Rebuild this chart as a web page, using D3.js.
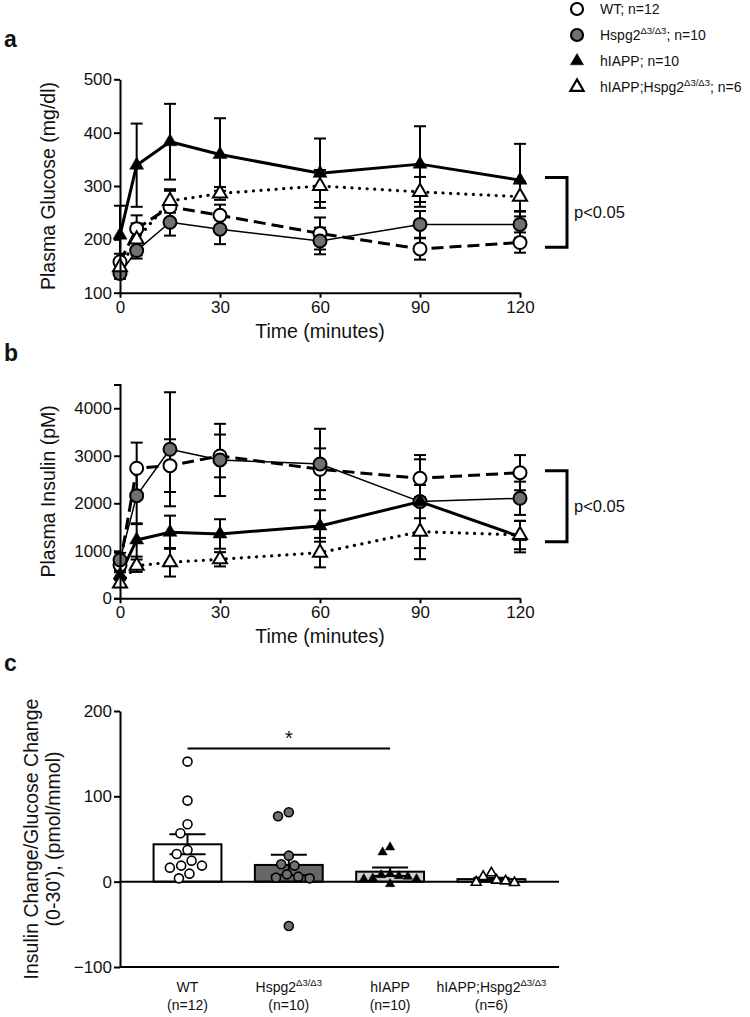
<!DOCTYPE html>
<html><head><meta charset="utf-8">
<script src="https://cdn.jsdelivr.net/npm/d3@7/dist/d3.min.js"></script>
<style>
body{margin:0;background:#fff}
svg{display:block}
text{font-family:"Liberation Sans",Arial,Helvetica,sans-serif;fill:#111}
</style>
</head><body>
<svg id="chart" width="750" height="1017"></svg>
<script>
// ---------- DATA ----------
const times = [0, 5, 15, 30, 60, 90, 120];
const timeTicks = [0, 30, 60, 90, 120];
const glucoseTicks = [100, 200, 300, 400, 500];
const insulinTicks = [0, 1000, 2000, 3000, 4000];
const ratioTicks = [-100, 0, 100, 200];

// Plasma glucose (mg/dl), mean and SEM
const glucoseWT       = [158, 220, 261, 245, 211, 182, 194];
const glucoseWTsem    = [15, 25, 30, 20, 30, 20, 19];
const glucoseHspg     = [136, 179, 232, 219, 197, 228, 228];
const glucoseHspgSem  = [10, 15, 25, 28, 25, 25, 25];
const glucoseHiapp    = [208, 339, 383, 359, 324, 341, 311];
const glucoseHiappSem = [55, 78, 71, 68, 65, 71, 68];
const glucoseDbl      = [148, 200, 272, 286, 300, 289, 280];
const glucoseDblSem   = [12, 30, 22, 12, 30, 28, 28];

// Plasma insulin (pM), mean and SEM
const insulinWT       = [701, 2737, 2792, 2996, 2716, 2526, 2644];
const insulinWTsem    = [150, 540, 555, 450, 440, 400, 370];
const insulinHspg     = [807, 2161, 3137, 2912, 2828, 2035, 2105];
const insulinHspgSem  = [150, 600, 1200, 760, 740, 980, 350];
const insulinHiapp    = [490, 1228, 1390, 1354, 1522, 2035, 1297];
const insulinHiappSem = [100, 350, 350, 310, 330, 350, 330];
const insulinDbl      = [315, 686, 758, 821, 961, 1403, 1333];
const insulinDblSem   = [80, 130, 300, 150, 310, 580, 300];

// Panel c: insulin change / glucose change (0-30')
const ratioWT    = [140.7, 95, 67.3, 56.7, 37.2, 32.5, 24.6, 18.8, 18.8, 16.4, 9.4, 3.9];
const ratioHspg  = [81.3, 76.6, 30.5, 20.4, 18.8, 8.6, 5.9, 4.7, 3.9, -52];
const ratioHiapp = [40.3, 34.5, 9, 7.8, 6.7, 5.9, 3.9, 3.1, 3.1, -2.7];
const ratioDbl   = [10.2, 5.9, 1.6, 0.8, -0.8, -1.2];
const ratioMeans = [43.8, 19.6, 11.7, 3];
const ratioSem   = [11.7, 12, 5, 1.5];

const groupKeys = ["WT", "Hspg2", "hIAPP", "hIAPP;Hspg2"];
const legendLabels = [
  [["WT; n=12"]],
  [["Hspg2"], ["Δ3/Δ3", 1], ["; n=10"]],
  [["hIAPP; n=10"]],
  [["hIAPP;Hspg2"], ["Δ3/Δ3", 1], ["; n=6"]]
];
const catLabels = [
  [["WT"]],
  [["Hspg2"], ["Δ3/Δ3", 1]],
  [["hIAPP"]],
  [["hIAPP;Hspg2"], ["Δ3/Δ3", 1]]
];
const catN = ["(n=12)", "(n=10)", "(n=10)", "(n=6)"];
const bracketA = [316, 185];
const bracketB = [2686, 1192];
const sigC = {from: 0, to: 2, value: 156, label: "*"};

// ---------- STYLES ----------
const styles = [
  {marker: "circle", fill: "#fff", width: 3, dash: "12,6"},
  {marker: "circle", fill: "#707070", width: 1.5, dash: null},
  {marker: "triangle", fill: "#000", width: 3, dash: null},
  {marker: "triangle", fill: "#fff", width: 3.2, dash: "0.1,7.5"}
];
const barFills = ["#fff", "#666", "#cfcfcf", "#fff"];
const tickFont = 17, titleFont = 19.5;

const svg = d3.select("#chart");

function richText(sel, parts, size) {
  let prevSup = false;
  parts.forEach(p => {
    if (p[1]) {
      sel.append("tspan").attr("font-size", size * 0.68).attr("dy", -size * 0.42).text(p[0]);
      prevSup = true;
    } else {
      sel.append("tspan").attr("font-size", size).attr("dy", prevSup ? size * 0.42 : 0).text(p[0]);
      prevSup = false;
    }
  });
}

function drawMarker(g, type, fill, x, y, opts) {
  if (type === "circle") {
    g.append("circle").attr("cx", x).attr("cy", y).attr("r", opts.r)
      .attr("fill", fill).attr("stroke", "#000").attr("stroke-width", opts.sw);
  } else {
    g.append("path").attr("d", d3.symbol(d3.symbolTriangle, opts.tri)())
      .attr("transform", `translate(${x},${y})`)
      .attr("fill", fill).attr("stroke", "#000").attr("stroke-width", fill === "#000" ? 0.5 : opts.sw)
      .attr("stroke-linejoin", "miter");
  }
}

function styleAxis(g) {
  g.selectAll(".domain").attr("stroke", "#000").attr("stroke-width", 2);
  g.selectAll(".tick line").attr("stroke", "#000").attr("stroke-width", 2);
  g.selectAll(".tick text").attr("font-size", tickFont).attr("fill", "#111")
    .attr("font-family", '"Liberation Sans",Arial,sans-serif');
}

function timePanel(cfg) {
  const x = d3.scaleLinear([0, 120], [120, 520]);
  const y = d3.scaleLinear(cfg.domain, cfg.range);
  const g = svg.append("g");

  // lines
  cfg.series.forEach((s, i) => {
    const st = styles[i];
    const line = d3.line().x((d, j) => x(times[j])).y(d => y(d));
    g.append("path").datum(s.mean).attr("d", line).attr("fill", "none")
      .attr("stroke", "#000").attr("stroke-width", st.width)
      .attr("stroke-dasharray", st.dash)
      .attr("stroke-linecap", st.dash && st.dash.startsWith("0.1") ? "round" : "butt")
      .attr("stroke-linejoin", "round");
  });
  // error bars
  cfg.series.forEach((s, i) => {
    s.mean.forEach((m, j) => {
      const cx = x(times[j]);
      const y1 = y(m + s.sem[j]), y0 = y(Math.max(cfg.domain[0], m - s.sem[j]));
      g.append("line").attr("x1", cx).attr("x2", cx).attr("y1", y1).attr("y2", y0)
        .attr("stroke", "#000").attr("stroke-width", 2);
      [y1, y0].forEach(yy => g.append("line").attr("x1", cx - 6).attr("x2", cx + 6)
        .attr("y1", yy).attr("y2", yy).attr("stroke", "#000").attr("stroke-width", 2));
    });
  });
  // markers
  cfg.series.forEach((s, i) => {
    const st = styles[i];
    s.mean.forEach((m, j) => drawMarker(g, st.marker, st.fill, x(times[j]), y(m), {r: 6.5, sw: 2, tri: 85}));
  });

  // axes
  const ax = g.append("g").attr("transform", `translate(0,${cfg.range[0]})`)
    .call(d3.axisBottom(x).tickValues(timeTicks).tickSize(5).tickSizeOuter(0).tickPadding(3));
  styleAxis(ax);
  const ay = g.append("g").attr("transform", "translate(120,0)")
    .call(d3.axisLeft(y).tickValues(cfg.ticks).tickFormat(d3.format("d"))
      .tickSize(6).tickSizeOuter(cfg.outer).tickPadding(2));
  styleAxis(ay);

  g.append("text").attr("x", 320).attr("y", cfg.range[0] + 45).attr("text-anchor", "middle")
    .attr("font-size", titleFont).text("Time (minutes)");
  g.append("text").attr("transform", `translate(55,${(cfg.range[0] + cfg.range[1]) / 2}) rotate(-90)`)
    .attr("text-anchor", "middle").attr("font-size", titleFont).text(cfg.ylabel);

  // bracket
  const b0 = y(cfg.bracket[0]), b1 = y(cfg.bracket[1]);
  g.append("path").attr("d", `M545,${b0}H567V${b1}H545`).attr("fill", "none")
    .attr("stroke", "#000").attr("stroke-width", 3);
  g.append("text").attr("x", 574).attr("y", (b0 + b1) / 2 + 6).attr("font-size", 16.5).text("p<0.05");

  g.append("text").attr("x", 4).attr("y", cfg.letterY).attr("font-size", 23)
    .attr("font-weight", "bold").text(cfg.letter);
}

timePanel({
  domain: [100, 500], range: [292.7, 79.3], ticks: glucoseTicks, outer: 0,
  ylabel: "Plasma Glucose (mg/dl)", bracket: bracketA, letter: "a", letterY: 47,
  series: [
    {mean: glucoseWT, sem: glucoseWTsem},
    {mean: glucoseHspg, sem: glucoseHspgSem},
    {mean: glucoseHiapp, sem: glucoseHiappSem},
    {mean: glucoseDbl, sem: glucoseDblSem}
  ]
});
timePanel({
  domain: [0, 4500], range: [598.3, 384.5], ticks: insulinTicks, outer: 6,
  ylabel: "Plasma Insulin (pM)", bracket: bracketB, letter: "b", letterY: 361,
  series: [
    {mean: insulinWT, sem: insulinWTsem},
    {mean: insulinHspg, sem: insulinHspgSem},
    {mean: insulinHiapp, sem: insulinHiappSem},
    {mean: insulinDbl, sem: insulinDblSem}
  ]
});

// ---------- LEGEND ----------
const lg = svg.append("g");
const legendY = d3.scalePoint().domain(groupKeys).range([9, 87]);
groupKeys.forEach((k, i) => {
  const st = styles[i];
  drawMarker(lg, st.marker, st.fill, 577, legendY(k), {r: 6, sw: 2.2, tri: 75});
  const t = lg.append("text").attr("x", 600).attr("y", legendY(k) + 5).attr("font-size", 14);
  richText(t, legendLabels[i], 14);
});

// ---------- PANEL C ----------
const gc = svg.append("g");
const yC = d3.scaleLinear([-100, 200], [967, 711]);
const xC = d3.scaleBand().domain(groupKeys).range([136.85, 542.05]).paddingInner(0.33).paddingOuter(0.165);
const ratioSets = [ratioWT, ratioHspg, ratioHiapp, ratioDbl];

// bars
groupKeys.forEach((k, i) => {
  const top = yC(ratioMeans[i]);
  gc.append("rect").attr("x", xC(k)).attr("y", top).attr("width", xC.bandwidth())
    .attr("height", yC(0) - top).attr("fill", barFills[i]).attr("stroke", "#000").attr("stroke-width", 2);
});

// beeswarm layout (computed, not typed)
function swarm(vals, D) {
  const placed = [];
  const order = vals.map((v, i) => i).sort((a, b) => vals[b] - vals[a]);
  const out = new Array(vals.length);
  order.forEach(idx => {
    const py = yC(vals[idx]);
    const ints = [];
    placed.forEach(p => {
      const dy = Math.abs(p.y - py);
      if (dy < D) { const w = Math.sqrt(D * D - dy * dy); ints.push([p.x - w, p.x + w]); }
    });
    const cands = [0];
    ints.forEach(iv => { cands.push(iv[0], iv[1]); });
    cands.sort((a, b) => Math.abs(a) - Math.abs(b));
    let chosen = 0;
    for (const c of cands) {
      if (!ints.some(iv => c > iv[0] + 1e-6 && c < iv[1] - 1e-6)) { chosen = c; break; }
    }
    placed.push({x: chosen, y: py});
    out[idx] = {x: chosen, y: py};
  });
  return out;
}

// error bars in c
groupKeys.forEach((k, i) => {
  const cx = xC(k) + xC.bandwidth() / 2;
  const y1 = yC(ratioMeans[i] + ratioSem[i]), y0 = yC(ratioMeans[i] - ratioSem[i]);
  gc.append("line").attr("x1", cx).attr("x2", cx).attr("y1", y1).attr("y2", y0)
    .attr("stroke", "#000").attr("stroke-width", 2);
  [y1, y0].forEach(yy => gc.append("line").attr("x1", cx - 18).attr("x2", cx + 18)
    .attr("y1", yy).attr("y2", yy).attr("stroke", "#000").attr("stroke-width", 2));
});

// zero line and bottom axis line
gc.append("line").attr("x1", 120).attr("x2", 559).attr("y1", yC(0)).attr("y2", yC(0))
  .attr("stroke", "#000").attr("stroke-width", 2);
gc.append("line").attr("x1", 120).attr("x2", 559).attr("y1", yC(-100)).attr("y2", yC(-100))
  .attr("stroke", "#000").attr("stroke-width", 2);

groupKeys.forEach((k, i) => {
  const st = styles[i];
  const cx = xC(k) + xC.bandwidth() / 2;
  const D = st.marker === "circle" ? 11.5 : 9;
  const pos = swarm(ratioSets[i], D);
  pos.forEach(p => drawMarker(gc, st.marker, st.fill, cx + p.x, p.y,
    {r: 4.5, sw: 1.6, tri: st.fill === "#000" ? 38 : 42}));
});

const ayc = gc.append("g").attr("transform", "translate(120,0)")
  .call(d3.axisLeft(yC).tickValues(ratioTicks).tickSize(6).tickSizeOuter(0).tickPadding(2));
styleAxis(ayc);

// significance
const sx0 = xC(groupKeys[sigC.from]) + xC.bandwidth() / 2;
const sx1 = xC(groupKeys[sigC.to]) + xC.bandwidth() / 2;
gc.append("line").attr("x1", sx0).attr("x2", sx1).attr("y1", yC(sigC.value)).attr("y2", yC(sigC.value))
  .attr("stroke", "#000").attr("stroke-width", 2);
gc.append("text").attr("x", (sx0 + sx1) / 2).attr("y", yC(sigC.value) - 4).attr("text-anchor", "middle")
  .attr("font-size", 20).text(sigC.label);

// category labels
groupKeys.forEach((k, i) => {
  const cx = xC(k) + xC.bandwidth() / 2;
  const t = gc.append("text").attr("x", cx).attr("y", 992).attr("text-anchor", "middle").attr("font-size", 14);
  richText(t, catLabels[i], 14);
  gc.append("text").attr("x", cx).attr("y", 1010).attr("text-anchor", "middle").attr("font-size", 14).text(catN[i]);
});

// y label c
const yl = gc.append("text").attr("transform", `translate(0,${(yC(-100) + yC(200)) / 2}) rotate(-90)`)
  .attr("text-anchor", "middle").attr("font-size", titleFont);
yl.append("tspan").attr("x", 0).attr("y", 38).text("Insulin Change/Glucose Change");
yl.append("tspan").attr("x", 0).attr("y", 60).text("(0-30'), (pmol/mmol)");

gc.append("text").attr("x", 4).attr("y", 671).attr("font-size", 23).attr("font-weight", "bold").text("c");
</script>
</body></html>
